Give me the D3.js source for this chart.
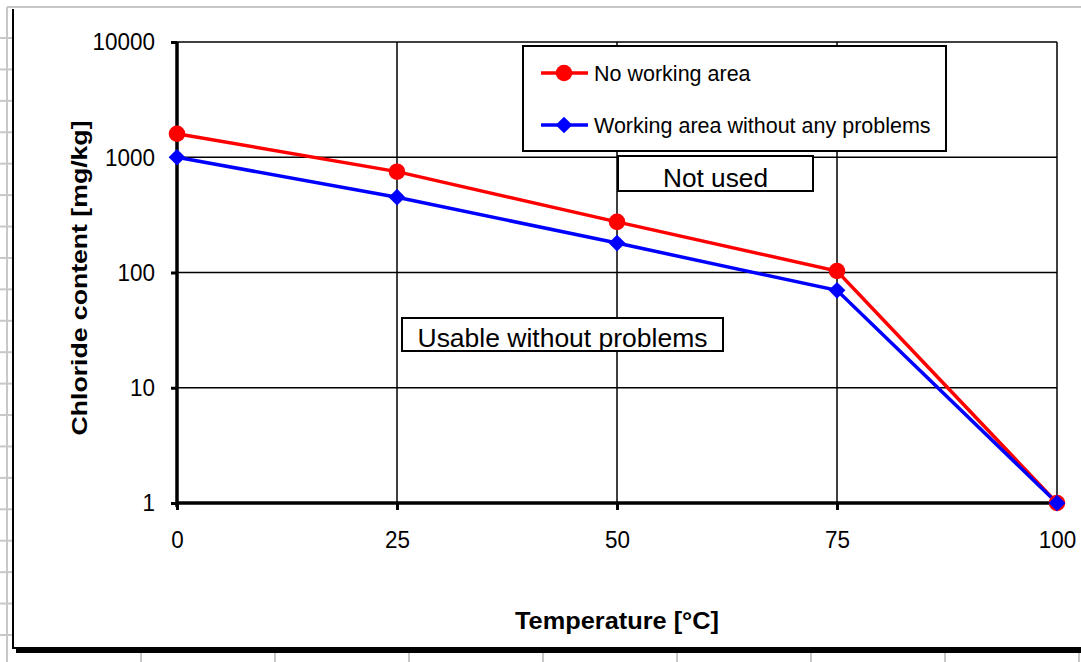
<!DOCTYPE html>
<html>
<head>
<meta charset="utf-8">
<script src="https://cdn.jsdelivr.net/npm/d3@7"></script>
<style>
  body { margin: 0; background: white; }
  svg { display: block; font-family: "Liberation Sans", Arial, sans-serif; }
</style>
</head>
<body>
<svg id="chart" width="1081" height="662"></svg>
<script>
const temperatures = [0, 25, 50, 75, 100]
const noWorkingArea = [1600, 750, 275, 103, 1]
const workingAreaOk = [1000, 450, 180, 70, 1]
const yTickValues = [1, 10, 100, 1000, 10000]
const seriesNames = ["No working area", "Working area without any problems"]
const seriesColors = ["#ff0000", "#0000ff"]

const width = 1081
const height = 662
const plot = {left: 177, right: 1057, top: 42, bottom: 503}

const svg = d3.select("#chart")

// spreadsheet background bits around the chart object
const sheet = svg.append("g").attr("stroke", "#c8c8c8").attr("stroke-width", 2)
sheet.append("line").attr("x1", 7).attr("x2", width).attr("y1", 7).attr("y2", 7)
sheet.append("line").attr("x1", 7).attr("x2", 7).attr("y1", 7).attr("y2", height)
d3.range(38, 640, 31.42).forEach(y => {
  sheet.append("line").attr("x1", 0).attr("x2", 12).attr("y1", y).attr("y2", y)
})
d3.range(141, width, 134).forEach(x => {
  sheet.append("line").attr("x1", x).attr("x2", x).attr("y1", 652).attr("y2", height)
})

// chart object frame (left + bottom) with shadow
svg.append("rect").attr("x", 13).attr("y", 9).attr("width", width).attr("height", 639)
  .attr("fill", "white")
svg.append("path").attr("d", `M13,9V648H${width}`)
  .attr("fill", "none").attr("stroke", "black").attr("stroke-width", 2)
svg.append("line").attr("x1", 16).attr("x2", width).attr("y1", 651).attr("y2", 651)
  .attr("stroke", "black").attr("stroke-width", 4)

const x = d3.scaleLinear().domain([0, 100]).range([plot.left, plot.right])
const y = d3.scaleLog().domain([1, 10000]).range([plot.bottom, plot.top])

// grid
const grid = svg.append("g").attr("stroke", "black").attr("stroke-width", 1.5)
grid.selectAll(".hg").data(yTickValues).join("line")
  .attr("x1", plot.left).attr("x2", plot.right)
  .attr("y1", d => y(d)).attr("y2", d => y(d))
grid.selectAll(".vg").data(temperatures).join("line")
  .attr("x1", d => x(d)).attr("x2", d => x(d))
  .attr("y1", plot.top).attr("y2", plot.bottom)

// axes
const xAxis = svg.append("g")
  .attr("transform", `translate(0,${plot.bottom})`)
  .call(d3.axisBottom(x).tickValues(temperatures).tickSize(7).tickPadding(21))
const yAxis = svg.append("g")
  .attr("transform", `translate(${plot.left},0)`)
  .call(d3.axisLeft(y).tickValues(yTickValues).tickFormat(d3.format("d")).tickSize(6).tickPadding(16))

;[xAxis, yAxis].forEach(a => {
  a.select(".domain").attr("stroke-width", 3.5)
  a.selectAll(".tick line").attr("stroke-width", 3)
  a.selectAll("text").attr("font-size", 24.5).attr("fill", "black")
    .attr("font-family", "Liberation Sans, Arial, sans-serif")
    .attr("textLength", d => String(d).length * 12.5)
    .attr("lengthAdjust", "spacingAndGlyphs")
})
xAxis.select(".domain").attr("d", `M${plot.left},0H${plot.right}`)
yAxis.select(".domain").attr("d", `M0,${plot.bottom + 4}V${plot.top}`)

// axis titles
svg.append("text")
  .attr("x", (plot.left + plot.right) / 2).attr("y", 629)
  .attr("text-anchor", "middle").attr("font-weight", "bold").attr("font-size", 23.5)
  .attr("textLength", 204).attr("lengthAdjust", "spacingAndGlyphs")
  .text("Temperature [°C]")
svg.append("text")
  .attr("transform", "translate(87,278) rotate(-90)")
  .attr("text-anchor", "middle").attr("font-weight", "bold").attr("font-size", 22.5)
  .attr("textLength", 315).attr("lengthAdjust", "spacingAndGlyphs")
  .text("Chloride content [mg/kg]")

// series
const line = d3.line().x(d => x(d[0])).y(d => y(d[1]))
const series = [noWorkingArea, workingAreaOk].map(vals => temperatures.map((t, i) => [t, vals[i]]))

series.forEach((pts, i) => {
  svg.append("path").datum(pts).attr("d", line)
    .attr("fill", "none").attr("stroke", seriesColors[i]).attr("stroke-width", 3.5)
})
const markerRed = d3.symbol().type(d3.symbolCircle).size(215)
const markerBlue = d3.symbol().type(d3.symbolSquare).size(140)
const markerTransform = (i, px, py) => `translate(${px},${py})` + (i === 1 ? " rotate(45)" : "")
series.forEach((pts, i) => {
  svg.selectAll(null).data(pts).join("path")
    .attr("transform", d => markerTransform(i, x(d[0]), y(d[1])))
    .attr("d", i === 0 ? markerRed : markerBlue)
    .attr("fill", seriesColors[i])
})

// legend
const legend = svg.append("g")
legend.append("rect").attr("x", 523).attr("y", 46).attr("width", 423).attr("height", 105)
  .attr("fill", "white").attr("stroke", "black").attr("stroke-width", 2)
seriesNames.forEach((name, i) => {
  const cy = 73 + i * 52
  legend.append("line").attr("x1", 541).attr("x2", 588).attr("y1", cy).attr("y2", cy)
    .attr("stroke", seriesColors[i]).attr("stroke-width", 3.5)
  legend.append("path").attr("transform", markerTransform(i, 564, cy))
    .attr("d", i === 0 ? markerRed : markerBlue).attr("fill", seriesColors[i])
  legend.append("text").attr("x", 594).attr("y", cy + 8).attr("font-size", 21.5)
    .text(name)
})

// annotation boxes
const notes = [
  {text: "Not used", x: 618, y: 156, w: 195, h: 35, len: 105},
  {text: "Usable without problems", x: 402, y: 318, w: 321, h: 33, len: 290}
]
notes.forEach(n => {
  svg.append("rect").attr("x", n.x).attr("y", n.y).attr("width", n.w).attr("height", n.h)
    .attr("fill", "white").attr("stroke", "black").attr("stroke-width", 2)
  svg.append("text").attr("x", n.x + n.w / 2).attr("y", n.y + n.h - 4)
    .attr("text-anchor", "middle").attr("font-size", 25)
    .attr("textLength", n.len).attr("lengthAdjust", "spacingAndGlyphs")
    .text(n.text)
})
</script>
</body>
</html>
